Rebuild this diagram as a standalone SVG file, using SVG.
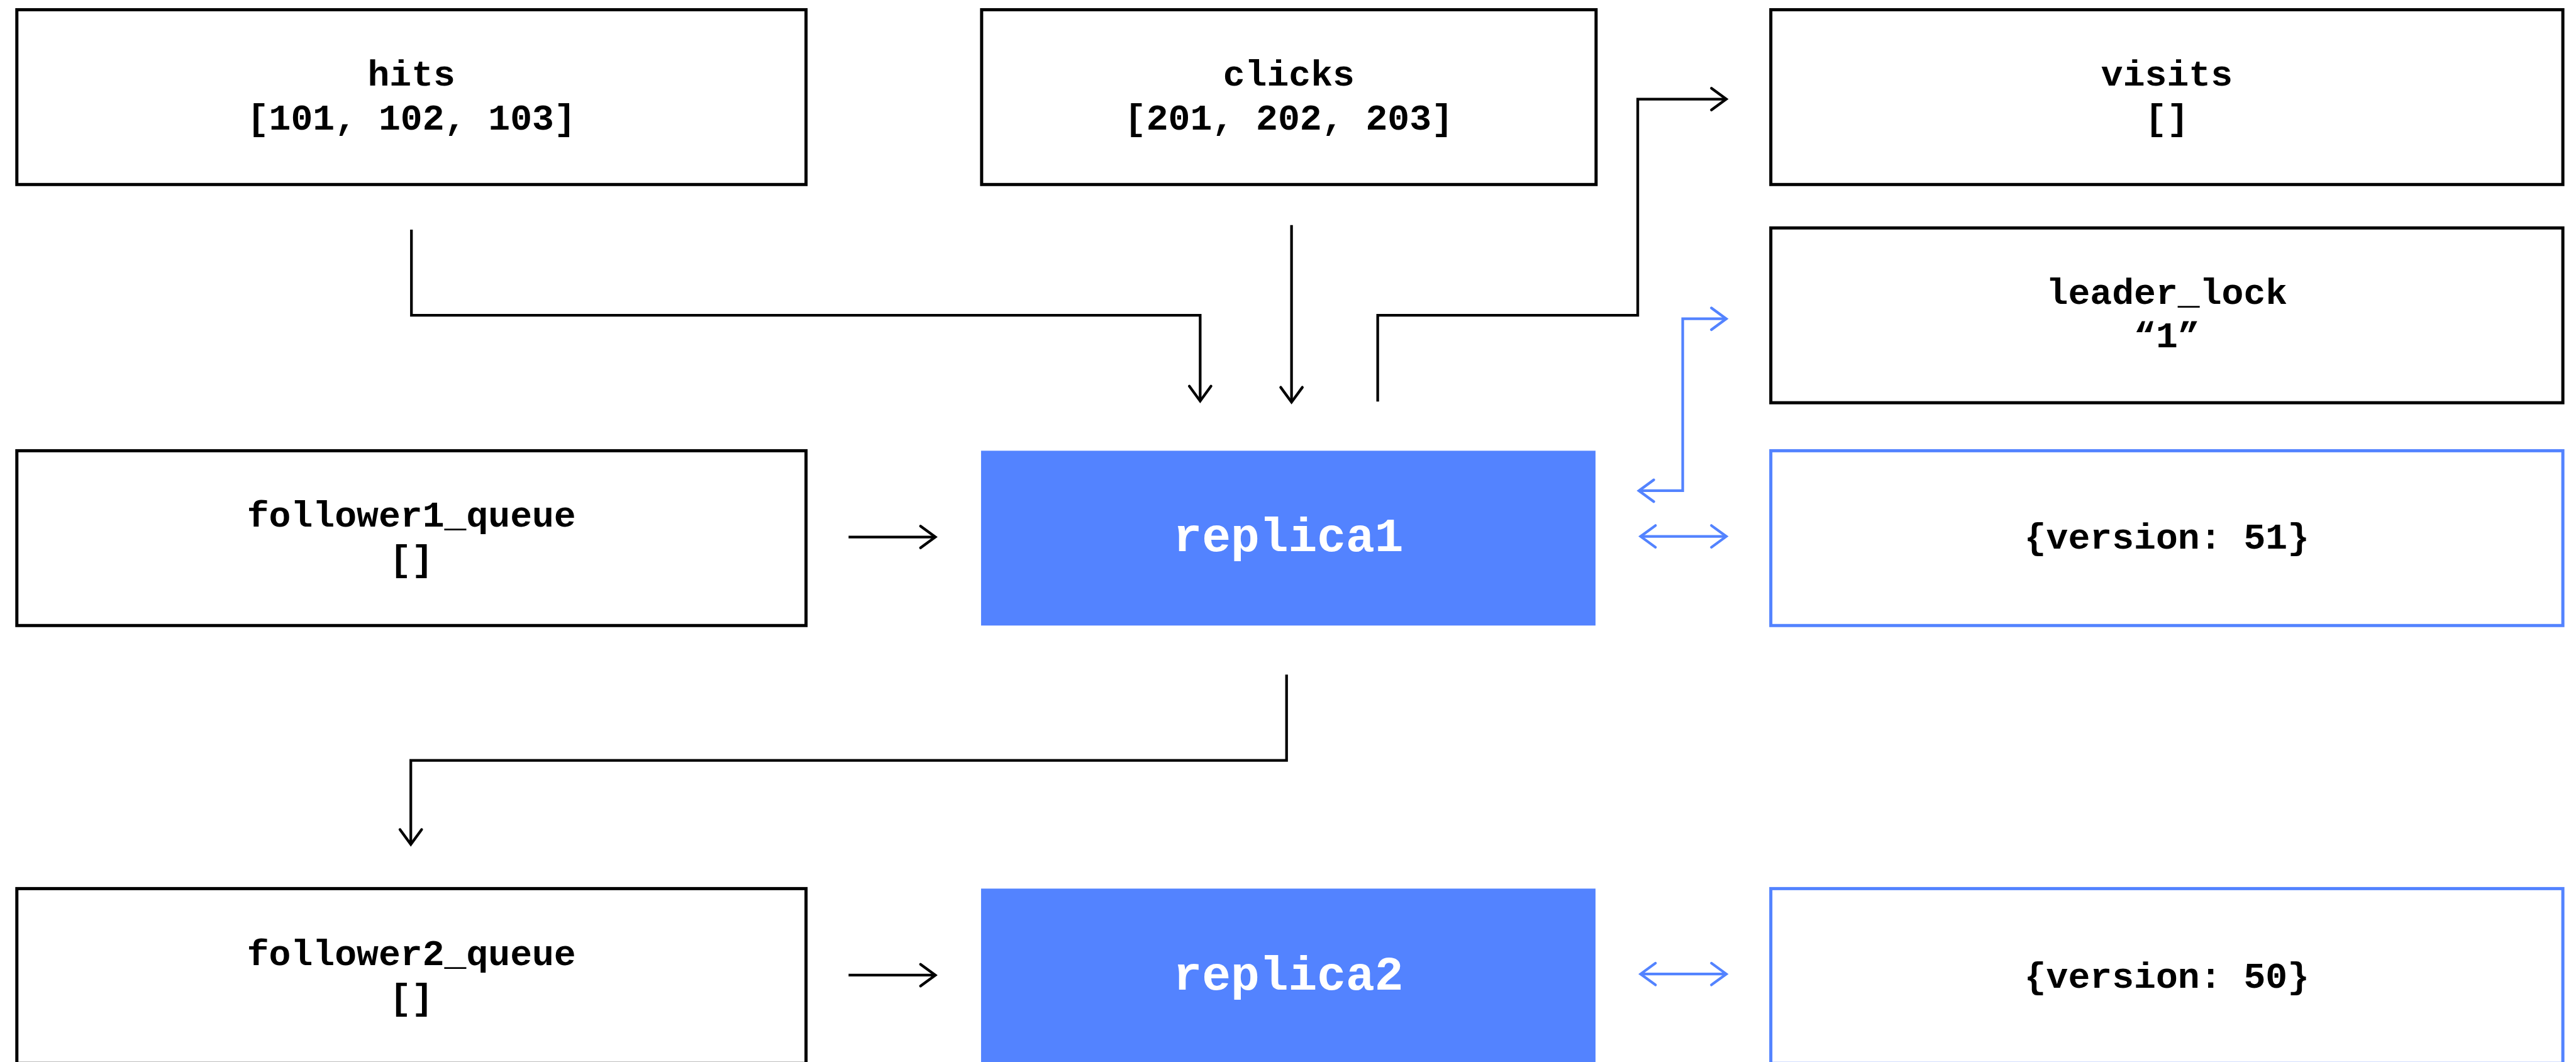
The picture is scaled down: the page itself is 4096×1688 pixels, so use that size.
<svg xmlns="http://www.w3.org/2000/svg" width="4096" height="1688" viewBox="0 0 4096 1688">
  <style>
    .box { fill: #ffffff; stroke: #000000; stroke-width: 5.5; }
    .store { fill: #ffffff; stroke: #5383ff; stroke-width: 5.5; }
    .replica { fill: #5383ff; stroke: none; }
    .lbl { font-family: "Courier New", "Liberation Mono", monospace; font-weight: bold; font-size: 64px; fill: #000000; text-anchor: middle; }
    .rlbl { font-family: "Courier New", "Liberation Mono", monospace; font-weight: bold; font-size: 84px; fill: #ffffff; text-anchor: middle; }
    .wire { fill: none; stroke: #000000; stroke-width: 4.7; stroke-linejoin: miter; }
    .sync { fill: none; stroke: #5383ff; stroke-width: 4.7; stroke-linejoin: miter; }
  </style>
  <defs>
    <marker id="arrow-black" markerUnits="userSpaceOnUse" orient="auto-start-reverse" refX="0" refY="0" markerWidth="60" markerHeight="60" overflow="visible">
      <path d="M-26,-19 L0,0 L-26,19" fill="none" stroke="#000000" stroke-width="4.7" stroke-linecap="round" stroke-linejoin="miter"/>
    </marker>
    <marker id="arrow-blue" markerUnits="userSpaceOnUse" orient="auto-start-reverse" refX="0" refY="0" markerWidth="60" markerHeight="60" overflow="visible">
      <path d="M-26,-19 L0,0 L-26,19" fill="none" stroke="#5383ff" stroke-width="4.7" stroke-linecap="round" stroke-linejoin="miter"/>
    </marker>
  </defs>

  <rect x="0" y="0" width="4096" height="1688" fill="#ffffff"/>

  <g transform="scale(0.908)">
    <!-- connectors -->
    <g id="connectors">
      <path class="wire" d="M720.5,402 V552 H2101.7 V702" marker-end="url(#arrow-black)"/>
      <path class="wire" d="M2261.7,394 V704" marker-end="url(#arrow-black)"/>
      <path class="wire" d="M2412.6,703 V552 H2868 V173.5 H3023" marker-end="url(#arrow-black)"/>
      <path class="sync" d="M3023,558 H2946.7 V859 H2870" marker-start="url(#arrow-blue)" marker-end="url(#arrow-blue)"/>
      <path class="wire" d="M1486,940 H1638" marker-end="url(#arrow-black)"/>
      <path class="sync" d="M2873,939 H3023" marker-start="url(#arrow-blue)" marker-end="url(#arrow-blue)"/>
      <path class="wire" d="M2253,1181 V1331 H719.4 V1478" marker-end="url(#arrow-black)"/>
      <path class="wire" d="M1486,1707 H1638" marker-end="url(#arrow-black)"/>
      <path class="sync" d="M2873,1705 H3023" marker-start="url(#arrow-blue)" marker-end="url(#arrow-blue)"/>
    </g>

    <!-- left column: input lists and follower queues -->
    <g id="hits">
      <rect class="box" x="29.5" y="17" width="1382" height="306"/>
      <text class="lbl" x="720.5" y="150">hits</text>
      <text class="lbl" x="720.5" y="227">[101, 102, 103]</text>
    </g>
    <g id="follower1_queue">
      <rect class="box" x="29.5" y="789" width="1382" height="306"/>
      <text class="lbl" x="720.5" y="922">follower1_queue</text>
      <text class="lbl" x="720.5" y="999">[]</text>
    </g>
    <g id="follower2_queue">
      <rect class="box" x="29.5" y="1555.5" width="1382" height="306"/>
      <text class="lbl" x="720.5" y="1689">follower2_queue</text>
      <text class="lbl" x="720.5" y="1766">[]</text>
    </g>

    <!-- middle column: clicks list and the replicas -->
    <g id="clicks">
      <rect class="box" x="1719" y="17" width="1076" height="306"/>
      <text class="lbl" x="2257" y="150">clicks</text>
      <text class="lbl" x="2257" y="227">[201, 202, 203]</text>
    </g>
    <g id="replica1">
      <rect class="replica" x="1718" y="789" width="1076" height="306"/>
      <text class="rlbl" x="2256" y="965">replica1</text>
    </g>
    <g id="replica2">
      <rect class="replica" x="1718" y="1555.5" width="1076" height="306"/>
      <text class="rlbl" x="2256" y="1732">replica2</text>
    </g>

    <!-- right column: output list, lock and replica state -->
    <g id="visits">
      <rect class="box" x="3101" y="17" width="1387" height="306"/>
      <text class="lbl" x="3794.5" y="150">visits</text>
      <text class="lbl" x="3794.5" y="227">[]</text>
    </g>
    <g id="leader_lock">
      <rect class="box" x="3101" y="399" width="1387" height="306"/>
      <text class="lbl" x="3794.5" y="531.5">leader_lock</text>
      <text class="lbl" x="3794.5" y="607.5">“1”</text>
    </g>
    <g id="state1">
      <rect class="store" x="3101" y="789" width="1387" height="306"/>
      <text class="lbl" x="3794.5" y="960">{version: 51}</text>
    </g>
    <g id="state2">
      <rect class="store" x="3101" y="1555.5" width="1387" height="306"/>
      <text class="lbl" x="3794.5" y="1729">{version: 50}</text>
    </g>
  </g>
</svg>
